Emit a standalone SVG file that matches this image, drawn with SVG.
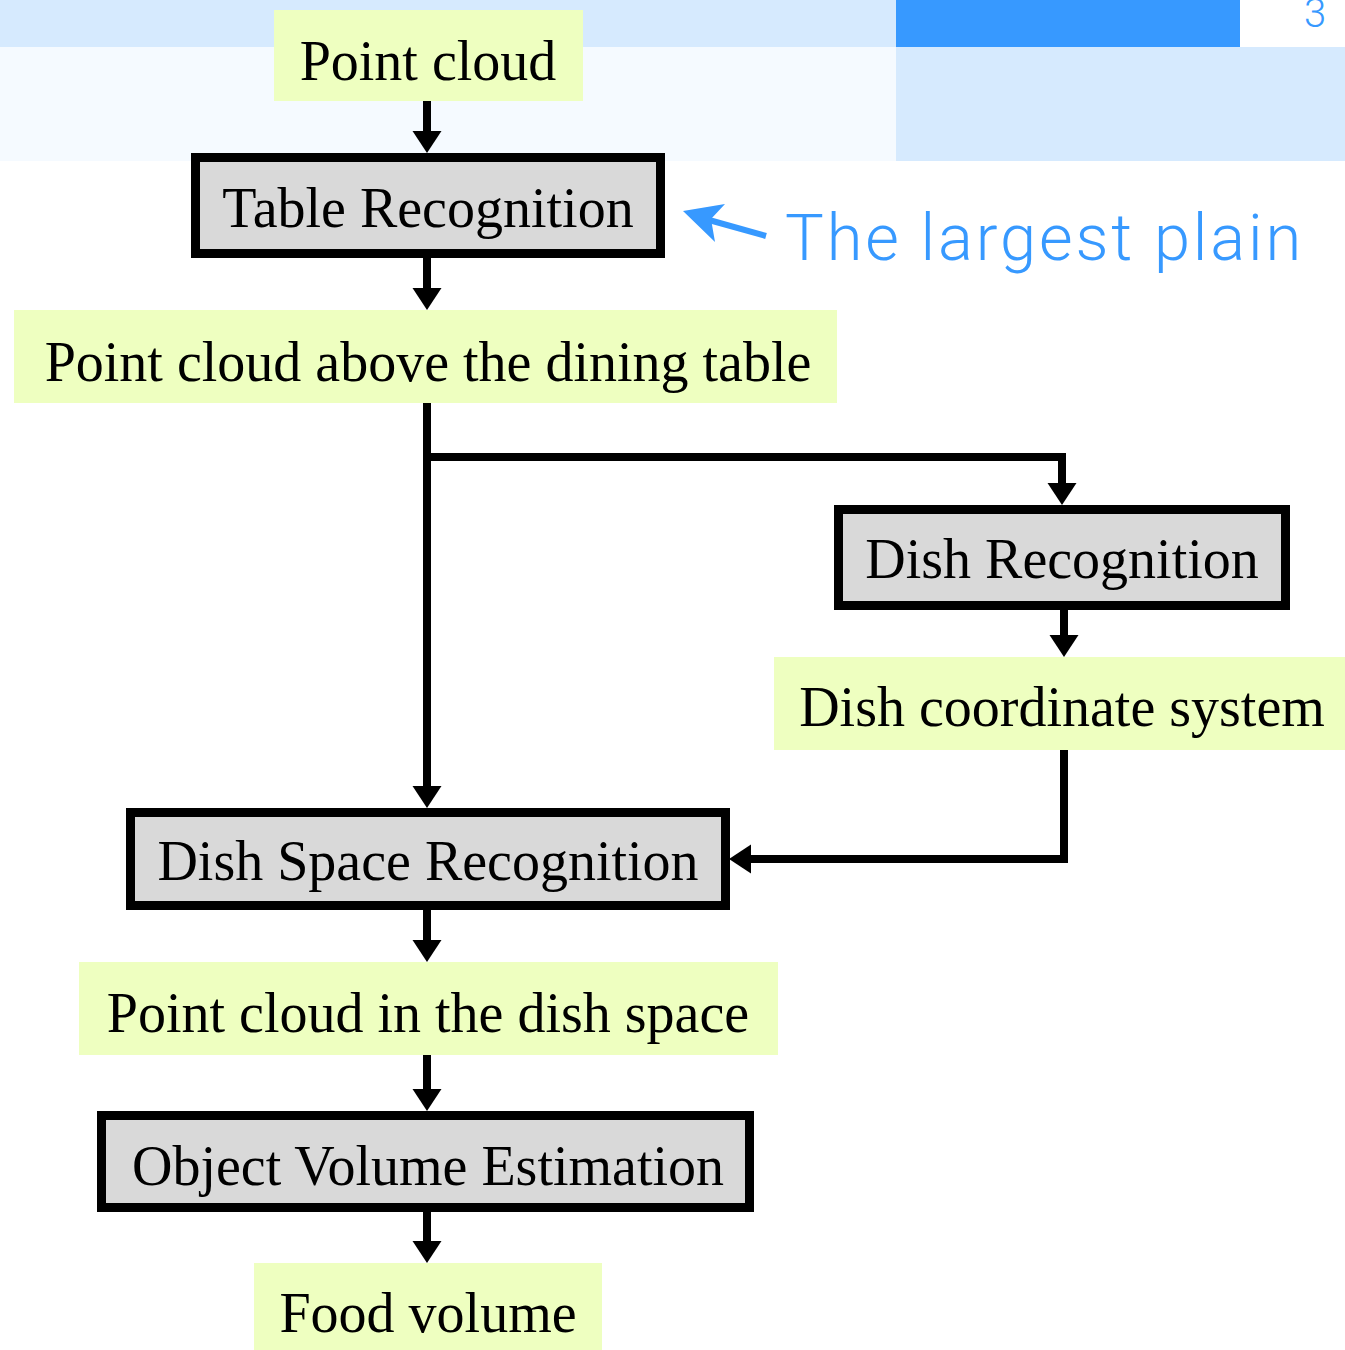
<svg xmlns="http://www.w3.org/2000/svg" width="1345" height="1350" viewBox="0 0 1345 1350">
<style>
.data{fill:#EEFFC0}
.proc{fill:#D9D9D9;stroke:#000;stroke-width:9}
.t{font-family:"Liberation Serif","Times New Roman",serif;font-size:56px;fill:#000;text-anchor:middle}
.conn{fill:none;stroke:#000;stroke-width:8;marker-end:url(#ah)}
</style>
<defs>
<marker id="ah" viewBox="0 -15 22 30" refX="10" refY="0" markerWidth="22" markerHeight="30" markerUnits="userSpaceOnUse" orient="auto">
<path d="M0,-14.5 L22,0 L0,14.5 z" fill="#000"/>
</marker>
</defs>
<g id="background">
<rect x="0" y="0" width="896" height="47" fill="#D6EAFE"/>
<rect x="896" y="0" width="344" height="47" fill="#3799FF"/>
<rect x="0" y="47" width="896" height="114" fill="#F5FAFF"/>
<rect x="896" y="47" width="449" height="114" fill="#D6EAFE"/>
<text x="1315" y="27" font-family="Roboto,'Noto Sans',sans-serif" font-size="40" font-weight="300" fill="#3799FF" text-anchor="middle">3</text>
</g>
<g id="connectors">
<path class="conn" d="M427,101 V141"/>
<path class="conn" d="M427,258 V298"/>
<path class="conn" d="M427,403 V796"/>
<path class="conn" d="M427,457 H1062 V493"/>
<path class="conn" d="M1064,610 V645"/>
<path class="conn" d="M1064,750 V859 H741"/>
<path class="conn" d="M427,910 V950"/>
<path class="conn" d="M427,1055 V1099"/>
<path class="conn" d="M427,1212 V1251"/>
</g>
<g id="n-pointcloud">
<rect class="data" x="274" y="10" width="309" height="91"/>
<text class="t" x="428" y="80">Point cloud</text>
</g>
<g id="n-table">
<rect class="proc" x="195.5" y="157.5" width="465" height="96"/>
<text class="t" x="428" y="227">Table Recognition</text>
</g>
<g id="n-above">
<rect class="data" x="14" y="310" width="823" height="93"/>
<text class="t" x="428" y="381">Point cloud above the dining table</text>
</g>
<g id="n-dish">
<rect class="proc" x="838.5" y="509.5" width="447" height="96"/>
<text class="t" x="1062" y="578">Dish Recognition</text>
</g>
<g id="n-dishcoord">
<rect class="data" x="774" y="657" width="571" height="93"/>
<text class="t" x="1062" y="726">Dish coordinate system</text>
</g>
<g id="n-dishspace">
<rect class="proc" x="130.5" y="812.5" width="595" height="93"/>
<text class="t" x="428" y="880">Dish Space Recognition</text>
</g>
<g id="n-pcdish">
<rect class="data" x="79" y="962" width="699" height="93"/>
<text class="t" x="428" y="1032">Point cloud in the dish space</text>
</g>
<g id="n-volume">
<rect class="proc" x="101.5" y="1115.5" width="648" height="92"/>
<text class="t" x="428" y="1185">Object Volume Estimation</text>
</g>
<g id="n-food">
<rect class="data" x="254" y="1263" width="348" height="87"/>
<text class="t" x="428" y="1332">Food volume</text>
</g>
<g id="annotation">
<line x1="709" y1="220" x2="766" y2="236" stroke="#3799FF" stroke-width="6"/>
<polygon points="683,211 725,204 711,219 715,242" fill="#3799FF"/>
<text x="785" y="260" font-family="Roboto,'Noto Sans',sans-serif" font-size="65" font-weight="300" letter-spacing="2.9" fill="#3799FF">The largest plain</text>
</g>
</svg>
